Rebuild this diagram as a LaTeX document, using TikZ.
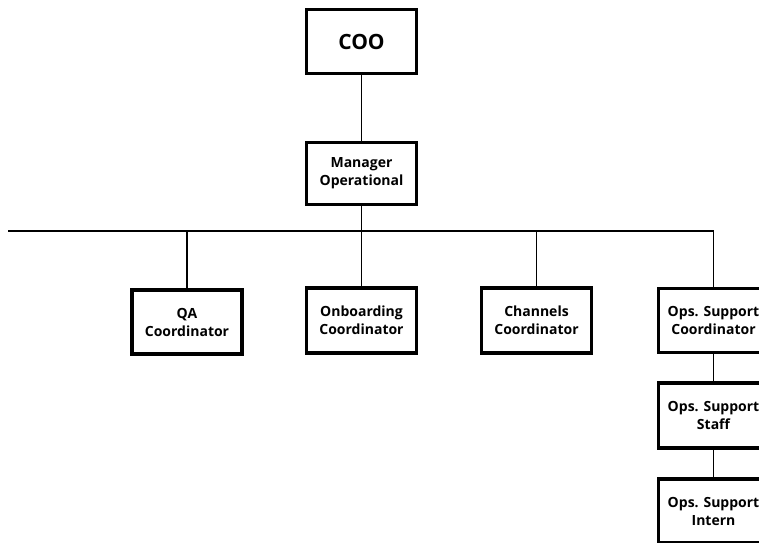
\documentclass[tikz,border=0pt]{standalone}
\usepackage{fontspec}
\setmainfont{Open Sans}
\usetikzlibrary{positioning}
\tikzstyle{block} = [draw, line width=3.5pt, fill=white, rectangle, minimum height=64pt, minimum width=110pt, align=center, font=\bfseries\fontsize{14}{18}\selectfont]
\tikzstyle{link} = [line width=1.8pt]
\tikzstyle{input} = [coordinate]
\begin{document}
\begin{tikzpicture}[x=1pt, y=1pt, node distance=132pt]
        \useasboundingbox (0,0) rectangle (759,-542);
        \node [block, font=\bfseries\fontsize{21}{25}\selectfont] (coo) at (361.5,-41.5) {COO};
        \node [block, minimum height=62pt, below of=coo] (mgr) {Manager\\Operational};
        \node [input, below of=mgr, node distance=57.5pt] (bus) {};
        \node [input] (busL) at (8,-231) {};

        \node [block] (qa) at (187,-322) {QA\\Coordinator};
        \node [block, minimum height=65pt, right of=qa, node distance=174.5pt, yshift=1.5pt] (onb) {Onboarding\\Coordinator};
        \node [block, minimum height=65pt, right of=onb, node distance=175pt] (chan) {Channels\\Coordinator};
        \node [block, right of=chan, node distance=177pt] (ops) {Ops. Support\\Coordinator};
        \node [block, minimum height=65pt, below of=ops, node distance=95pt] (staff) {Ops. Support\\Staff};
        \node [block, below of=staff, node distance=95.5pt] (intern) {Ops. Support\\Intern};

        \draw [link] (coo) -- (mgr);
        \draw [link] (mgr) -- (bus);
        \draw [link] (busL) -| (ops);
        \draw [link] (bus -| qa) -- (qa);
        \draw [link] (bus -| onb) -- (onb);
        \draw [link] (bus -| chan) -- (chan);
        \draw [link] (ops) -- (staff);
        \draw [link] (staff) -- (intern);
\end{tikzpicture}
\end{document}
